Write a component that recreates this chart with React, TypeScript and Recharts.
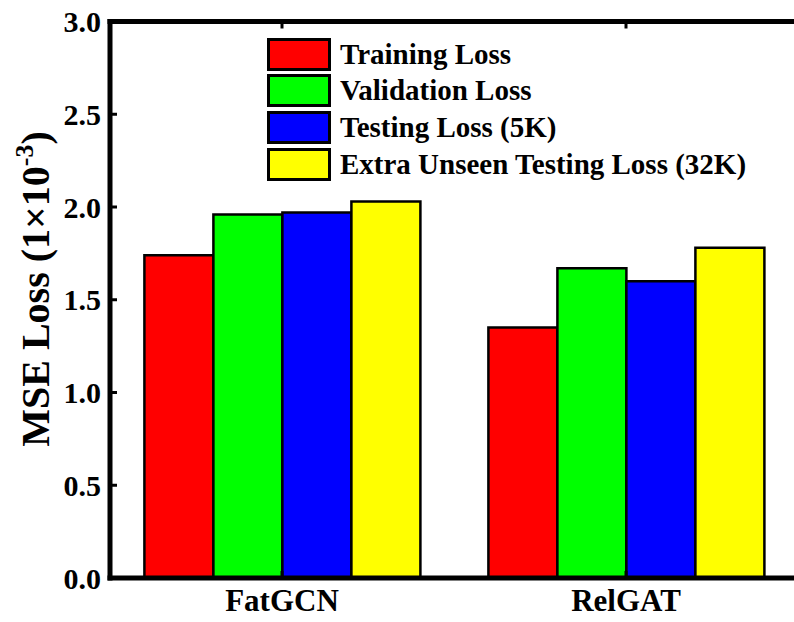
import React from "react";
import { Bar, BarChart, Legend, XAxis, YAxis } from "recharts";

const categories = ["FatGCN", "RelGAT"];
const trainingLoss = [1.74, 1.35];
const validationLoss = [1.96, 1.67];
const testingLoss = [1.97, 1.6];
const extraLoss = [2.03, 1.78];
const seriesNames = [
  "Training Loss",
  "Validation Loss",
  "Testing Loss (5K)",
  "Extra Unseen Testing Loss (32K)",
];
const seriesKeys = ["training", "validation", "testing", "extra"];
const seriesColors = ["#ff0000", "#00ff00", "#0000ff", "#ffff00"];
const yTicks = [0, 0.5, 1, 1.5, 2, 2.5, 3];

const data = categories.map((name, i) => ({
  name,
  training: trainingLoss[i],
  validation: validationLoss[i],
  testing: testingLoss[i],
  extra: extraLoss[i],
}));

const FONT = "Liberation Serif";
const axisLine = { stroke: "#000", strokeWidth: 5, strokeLinecap: "square" as const };

function YTick(props: any) {
  const { x, y, payload } = props;
  return (
    <g>
      <line x1={x} x2={x + 7} y1={y} y2={y} stroke="#000" strokeWidth={3} />
      <text
        x={x - 9}
        y={y}
        textAnchor="end"
        dominantBaseline="central"
        style={{ fontFamily: FONT, fontWeight: 700, fontSize: 30 }}
        fill="#000"
      >
        {Number(payload.value).toFixed(1)}
      </text>
    </g>
  );
}

function BottomTick(props: any) {
  const { x, y, payload } = props;
  return (
    <g>
      <line x1={x} x2={x} y1={y} y2={y - 7} stroke="#000" strokeWidth={3} />
      <text
        x={x}
        y={y + 33}
        textAnchor="middle"
        style={{ fontFamily: FONT, fontWeight: 700, fontSize: 31 }}
        fill="#000"
      >
        {payload.value}
      </text>
    </g>
  );
}

function TopTick(props: any) {
  const { x, y } = props;
  return <line x1={x} x2={x} y1={y} y2={y + 7} stroke="#000" strokeWidth={3} />;
}

function YLabel(props: any) {
  const { viewBox } = props;
  const cx = viewBox.x + 49;
  const cy = 289;
  return (
    <text
      x={cx}
      y={cy}
      transform={`rotate(-90 ${cx} ${cy})`}
      textAnchor="middle"
      style={{ fontFamily: FONT, fontWeight: 700, fontSize: 40 }}
      fill="#000"
    >
      MSE Loss (1×10
      <tspan style={{ fontSize: 26 }} dy={-16}>
        -3
      </tspan>
      <tspan dy={16}>)</tspan>
    </text>
  );
}

function LegendBox() {
  return (
    <div style={{ fontFamily: FONT, fontWeight: 700, fontSize: 29 }}>
      {seriesNames.map((label, i) => (
        <div
          key={label}
          style={{ display: "flex", alignItems: "center", height: 36.67, lineHeight: 1 }}
        >
          <div
            style={{
              width: 58,
              height: 27,
              border: "3px solid #000",
              background: seriesColors[i],
              marginRight: 9,
            }}
          />
          <span style={{ whiteSpace: "nowrap", color: "#000" }}>{label}</span>
        </div>
      ))}
    </div>
  );
}

export default function App() {
  return (
    <div
      style={{
        position: "absolute",
        left: 0,
        top: 0,
        width: 794,
        height: 622,
        overflow: "hidden",
        background: "#fff",
      }}
    >
      <BarChart
        width={812}
        height={622}
        data={data}
        margin={{ top: 1.5, right: 14, bottom: 0, left: 0 }}
        barCategoryGap="10%"
        barGap={0}
      >
        <XAxis
          xAxisId="bottom"
          dataKey="name"
          height={44}
          axisLine={axisLine}
          tickLine={false}
          tickSize={0}
          tickMargin={0}
          tick={<BottomTick />}
          interval={0}
        />
        <XAxis
          xAxisId="top"
          orientation="top"
          dataKey="name"
          height={20}
          axisLine={axisLine}
          tickLine={false}
          tickSize={0}
          tickMargin={0}
          tick={<TopTick />}
          interval={0}
        />
        <YAxis
          type="number"
          width={110}
          domain={[0, 3]}
          ticks={yTicks}
          axisLine={axisLine}
          tickLine={false}
          tickSize={0}
          tickMargin={0}
          tick={<YTick />}
          interval={0}
          label={{ content: <YLabel /> }}
        />
        <Legend
          layout="vertical"
          align="center"
          verticalAlign="middle"
          wrapperStyle={{ top: 36, left: 267, width: "auto", height: "auto" }}
          content={<LegendBox />}
        />
        {seriesKeys.map((key, i) => (
          <Bar
            key={key}
            xAxisId="bottom"
            dataKey={key}
            name={seriesNames[i]}
            fill={seriesColors[i]}
            stroke="#000"
            strokeWidth={2.5}
            isAnimationActive={false}
          />
        ))}
      </BarChart>
    </div>
  );
}
